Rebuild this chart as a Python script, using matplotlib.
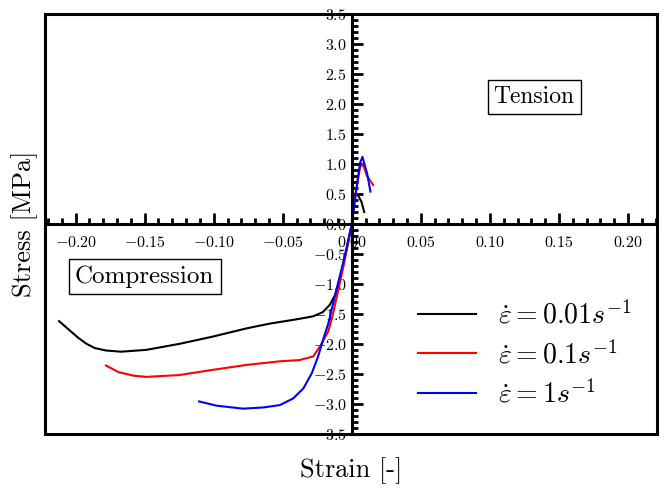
import numpy as np
import matplotlib
matplotlib.use("Agg")
import matplotlib.pyplot as plt
from matplotlib.lines import Line2D
from matplotlib.ticker import MultipleLocator, FuncFormatter

plt.rcParams['font.family'] = 'serif'
plt.rcParams['font.serif'] = ['cmr10']
plt.rcParams['mathtext.fontset'] = 'cm'
plt.rcParams['axes.formatter.use_mathtext'] = True

# strain / stress curves
strain_001 = [-0.212, -0.205, -0.198, -0.192, -0.186, -0.178, -0.167, -0.149, -0.125, -0.101,
              -0.076, -0.059, -0.040, -0.028, -0.021, -0.016, -0.012, -0.008, -0.004, 0.0,
              0.001, 0.004, 0.007, 0.009]
stress_001 = [-1.62, -1.76, -1.90, -2.00, -2.07, -2.11, -2.13, -2.10, -2.00, -1.88,
              -1.74, -1.66, -1.59, -1.54, -1.47, -1.35, -1.18, -0.85, -0.45, 0.0,
              0.48, 0.50, 0.37, 0.20]

strain_01 = [-0.178, -0.169, -0.158, -0.149, -0.125, -0.100, -0.076, -0.052, -0.038, -0.028,
             -0.023, -0.017, -0.0135, -0.006, 0.0, 0.003, 0.006, 0.008, 0.011, 0.0155]
stress_01 = [-2.36, -2.47, -2.53, -2.55, -2.52, -2.43, -2.35, -2.29, -2.27, -2.21,
             -2.04, -1.79, -1.49, -0.70, 0.0, 0.55, 0.95, 1.00, 0.80, 0.65]

strain_1 = [-0.1106, -0.098, -0.0788, -0.064, -0.052, -0.0425, -0.035, -0.029, -0.0244,
            -0.0208, -0.017, -0.0135, -0.006, 0.0, 0.004, 0.006, 0.0077, 0.011, 0.0135]
stress_1 = [-2.96, -3.03, -3.08, -3.06, -3.02, -2.91, -2.74, -2.49, -2.21,
            -1.93, -1.66, -1.32, -0.62, 0.0, 0.70, 1.02, 1.12, 0.85, 0.54]

labels = [r'$\dot{\varepsilon} = 0.01s^{-1}$', r'$\dot{\varepsilon} = 0.1s^{-1}$',
          r'$\dot{\varepsilon} = 1s^{-1}$']

fig = plt.figure(figsize=(6.65, 4.88), dpi=100)
ax = fig.add_subplot(111)
fig.subplots_adjust(left=0.068, right=0.988, top=0.971, bottom=0.111)

ax.plot(strain_001, stress_001, 'k-', linewidth=1.5, label=labels[0])
ax.plot(strain_01, stress_01, 'r-', linewidth=1.5, label=labels[1])
ax.plot(strain_1, stress_1, 'b-', linewidth=1.5, label=labels[2])

ax.set_xlim(-0.222, 0.221)
ax.set_ylim(-3.5, 3.5)

# spines crossing at the origin, plus a frame around the box
ax.spines['left'].set_position('zero')
ax.spines['bottom'].set_position('zero')
for s in ax.spines.values():
    s.set_linewidth(2.2)
for xy in [([0, 0], [0, 1]), ([0, 1], [0, 0])]:
    ax.add_line(Line2D(xy[0], xy[1], transform=ax.transAxes, color='k',
                       linewidth=2.2, clip_on=False))

ax.xaxis.set_ticks_position('bottom')
ax.yaxis.set_ticks_position('left')
ax.xaxis.set_major_locator(MultipleLocator(0.05))
ax.xaxis.set_minor_locator(MultipleLocator(0.01))
ax.yaxis.set_major_locator(MultipleLocator(0.5))
ax.yaxis.set_minor_locator(MultipleLocator(0.1))
ax.xaxis.set_major_formatter(FuncFormatter(lambda v, p: r'$%.2f$' % v))
ax.yaxis.set_major_formatter(FuncFormatter(lambda v, p: r'$%.1f$' % v))
ax.tick_params(which='major', direction='in', length=8, width=2, labelsize=11.5)
ax.tick_params(which='minor', direction='in', length=4, width=2)
ax.tick_params(axis='x', which='major', pad=8)

ax.set_xlabel('Strain [-]', fontsize=19)
ax.set_ylabel('Stress [MPa]', fontsize=19)
ax.xaxis.set_label_coords(0.5, -0.055)
ax.yaxis.set_label_coords(-0.012, 0.5)

box = dict(boxstyle='square,pad=0.25', facecolor='white', edgecolor='k', linewidth=1)
ax.text(0.132, 2.12, 'Tension', fontsize=17, ha='center', va='center', bbox=box)
ax.text(-0.15, -0.88, 'Compression', fontsize=18, ha='center', va='center', bbox=box)

ax.legend(loc='lower right', frameon=False, fontsize=20, handlelength=2.1,
          handletextpad=0.8, bbox_to_anchor=(1.0, 0.0), labelspacing=0.4)

plt.savefig('out.png', dpi=100)
